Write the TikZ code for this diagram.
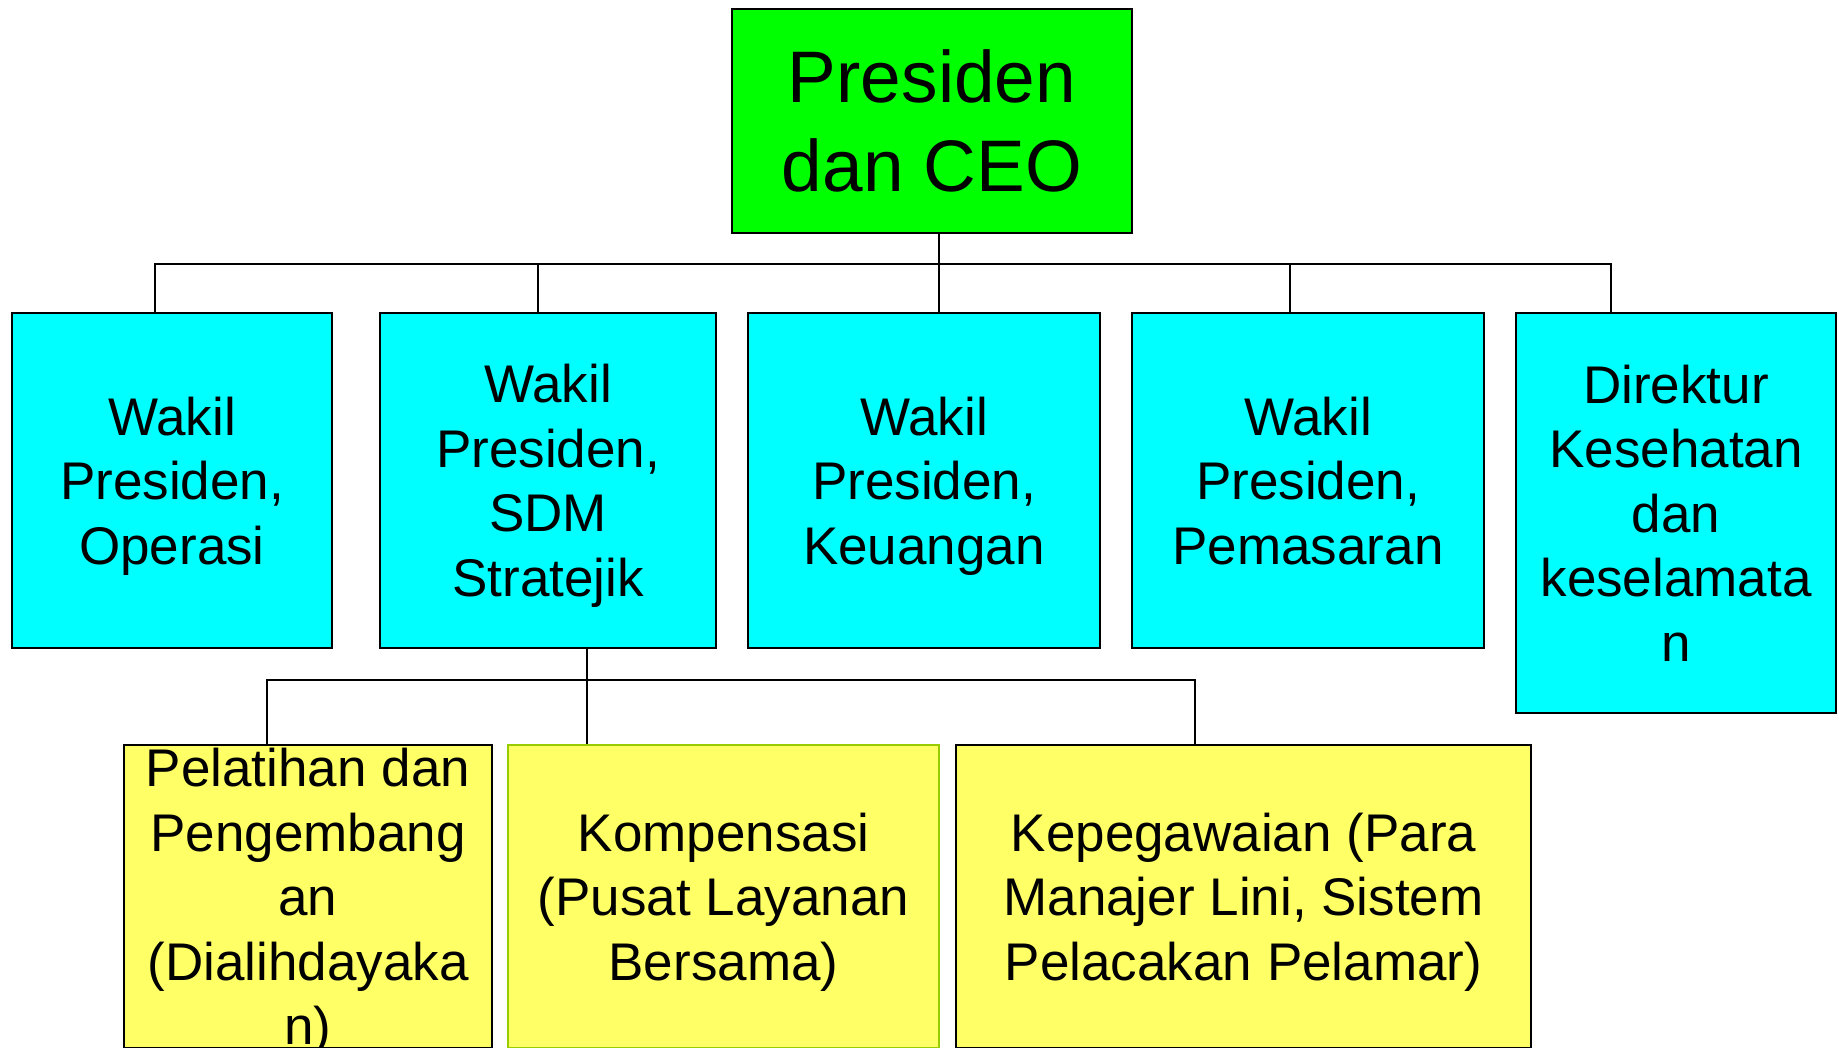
\documentclass[tikz,border=0pt]{standalone}
\usepackage{fontspec}
\setmainfont{Liberation Sans}
\definecolor{ceogreen}{RGB}{0,255,0}
\definecolor{vpcyan}{RGB}{0,255,255}
\definecolor{subyellow}{RGB}{255,255,102}
\definecolor{limeborder}{RGB}{153,204,0}
\newcommand\bigfont{\fontsize{73}{89}\selectfont}
\newcommand\midfont{\fontsize{53}{64.5}\selectfont}
\tikzset{
  box/.style={draw=black, line width=2pt, rectangle, inner sep=0pt, anchor=north west, align=center, font=\midfont, text depth=0pt},
  vpbox/.style={box, fill=vpcyan},
  subbox/.style={box, fill=subyellow},
  conn/.style={draw=black, line width=1.5pt},
}
\begin{document}
\begin{tikzpicture}[x=1pt,y=-1pt]
\clip (0,0) rectangle (1839,1048);
\fill[white] (0,0) rectangle (1839,1048);
% top
\node[box, fill=ceogreen, font=\bigfont, minimum width=400pt, minimum height=224pt] (ceo) at (731,8) {Presiden\\dan CEO};
% vice presidents
\node[vpbox, minimum width=320pt, minimum height=335pt] (v1) at (11,312) {Wakil\\Presiden,\\Operasi};
\node[vpbox, minimum width=336pt, minimum height=335pt] (v2) at (379,312) {Wakil\\Presiden,\\SDM\\Stratejik};
\node[vpbox, minimum width=352pt, minimum height=335pt] (v3) at (747,312) {Wakil\\Presiden,\\Keuangan};
\node[vpbox, minimum width=352pt, minimum height=335pt] (v4) at (1131,312) {Wakil\\Presiden,\\Pemasaran};
\node[vpbox, minimum width=320pt, minimum height=400pt] (v5) at (1515,312) {Direktur\\Kesehatan\\dan\\keselamata\\n};
% sub units
\node[subbox, minimum width=368pt, minimum height=303pt] (sa) at (123,744) {};
\node[font=\midfont, align=center, inner sep=0pt, text depth=0pt] (satext) at (sa.center) {Pelatihan dan\\Pengembang\\an\\(Dialihdayaka\\n)};
\node[subbox, draw=limeborder, minimum width=431pt, minimum height=303pt] (sb) at (507,744) {Kompensasi\\(Pusat Layanan\\Bersama)};
\node[subbox, minimum width=575pt, minimum height=303pt] (sc) at (955,744) {Kepegawaian (Para\\Manajer Lini, Sistem\\Pelacakan Pelamar)};
% connectors level 1
\coordinate (bus) at (939,264);
\coordinate (t1) at ([xshift=144pt]v1.north west);
\coordinate (t2) at ([xshift=159pt]v2.north west);
\coordinate (t3) at ([xshift=192pt]v3.north west);
\coordinate (t4) at ([xshift=159pt]v4.north west);
\coordinate (t5) at ([xshift=96pt]v5.north west);
\draw[conn] (ceo.south -| bus) -- (t3);
\draw[conn] (t1) |- (bus) -| (t5);
\draw[conn] (t2) -- (t2 |- bus);
\draw[conn] (t4) -- (t4 |- bus);
% connectors level 2
\coordinate (s2) at ([xshift=208pt]v2.south west);
\coordinate (sbus) at (587,680);
\coordinate (ta) at ([xshift=144pt]sa.north west);
\coordinate (tb) at ([xshift=80pt]sb.north west);
\coordinate (tc) at ([xshift=240pt]sc.north west);
\draw[conn] (s2) -- (tb);
\draw[conn] (ta) |- (sbus) -| (tc);
\end{tikzpicture}
\end{document}
